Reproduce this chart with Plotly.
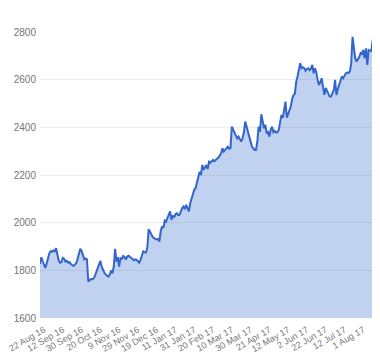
import pandas as pd
import plotly.graph_objects as go

uk_holidays = ["2016-08-29", "2016-12-26", "2016-12-27", "2017-01-02",
               "2017-04-14", "2017-04-17", "2017-05-01", "2017-05-29"]

values = [
    1827, 1855, 1838, 1819, 1810, 1830, 1858, 1872, 1880, 1878,
    1883, 1880, 1893, 1868, 1840, 1832, 1835, 1852, 1848, 1837,
    1840, 1832, 1835, 1826, 1822, 1818, 1824, 1830, 1848, 1876,
    1890, 1882, 1860, 1846, 1850, 1846, 1753, 1760, 1764, 1762,
    1766, 1778, 1795, 1815, 1833, 1840, 1815, 1800, 1790, 1782,
    1777, 1774, 1781, 1799, 1788, 1816, 1890, 1837, 1855, 1816,
    1851, 1848, 1860, 1856, 1845, 1858, 1861, 1855, 1852, 1848,
    1842, 1846, 1844, 1838, 1832, 1845, 1869, 1880, 1876, 1875,
    1895, 1973, 1962, 1950, 1940, 1935, 1932, 1930, 1931, 1921,
    1965, 1984, 1978, 2009, 2005, 2018, 2030, 2047, 2012, 2030,
    2022, 2036, 2040, 2032, 2033, 2052, 2061, 2068, 2057, 2075,
    2060, 2047, 2082, 2105, 2124, 2138, 2145, 2170, 2195, 2214,
    2200, 2242, 2222, 2232, 2242, 2225, 2256, 2252, 2258, 2263,
    2258, 2265, 2268, 2273, 2280, 2291, 2312, 2298, 2305, 2312,
    2319, 2310, 2312, 2403, 2390, 2382, 2365, 2354, 2361, 2348,
    2340, 2354, 2380, 2424, 2400, 2382, 2361, 2340, 2319, 2310,
    2305, 2305, 2340, 2403, 2382, 2455, 2420, 2396, 2410, 2375,
    2380, 2361, 2390, 2403, 2380, 2385, 2378, 2380, 2389, 2420,
    2452, 2440, 2470, 2508, 2441, 2455, 2470, 2487, 2520, 2536,
    2540, 2592, 2613, 2641, 2669, 2648, 2652, 2648, 2638, 2645,
    2648, 2640, 2646, 2662, 2627, 2648, 2630, 2599, 2578, 2590,
    2606, 2570, 2536, 2565, 2550, 2540, 2529, 2529, 2545, 2557,
    2599, 2536, 2560, 2578, 2600, 2613, 2606, 2615, 2627, 2630,
    2628, 2634, 2669, 2780, 2720, 2690, 2676, 2683, 2695, 2711,
    2705, 2725, 2690, 2731, 2662, 2725, 2722, 2720, 2766, 2775,
]

dates = pd.bdate_range("2016-08-22", periods=len(values), freq="C", holidays=uk_holidays)
categories = [f"{d.day} {d.strftime('%b %y')}" for d in dates]

tick_labels = ["22 Aug 16", "12 Sep 16", "30 Sep 16", "20 Oct 16", "9 Nov 16",
               "29 Nov 16", "19 Dec 16", "11 Jan 17", "31 Jan 17", "20 Feb 17",
               "10 Mar 17", "30 Mar 17", "21 Apr 17", "12 May 17", "2 Jun 17",
               "22 Jun 17", "12 Jul 17", "1 Aug 17"]
y_ticks = [1600, 1800, 2000, 2200, 2400, 2600, 2800]

fig = go.Figure(go.Scatter(
    x=categories, y=values, mode="lines",
    line=dict(color="#3366CC", width=2),
    fill="tozeroy", fillcolor="rgba(51,102,204,0.3)",
    hoverinfo="skip",
))

# page body has an 8px margin, so the figure is 372x352 and offsets are reduced by 8
fig.update_layout(
    width=372, height=352,
    margin=dict(l=32, r=6, t=24, b=42),
    paper_bgcolor="white", plot_bgcolor="white",
    font=dict(family="Arial, Liberation Sans, sans-serif", color="#757575"),
    showlegend=False,
)
fig.update_xaxes(
    type="category", tickmode="array", tickvals=tick_labels, ticktext=tick_labels,
    tickangle=-30, tickfont=dict(size=9, color="#7a7a7a"),
    showgrid=False, zeroline=False, showline=False, ticks="",
    range=[0, len(values) - 1], automargin=False,
    ticklabelshift=4, ticklabelstandoff=4,
)
fig.update_yaxes(
    range=[1600, 2800], tickvals=y_ticks,
    tickfont=dict(size=10, color="#757575"),
    showgrid=True, gridcolor="#ececec", gridwidth=1,
    zeroline=False, showline=False, ticks="", automargin=False,
    ticklabelstandoff=3,
)

fig.write_html("out.html")
